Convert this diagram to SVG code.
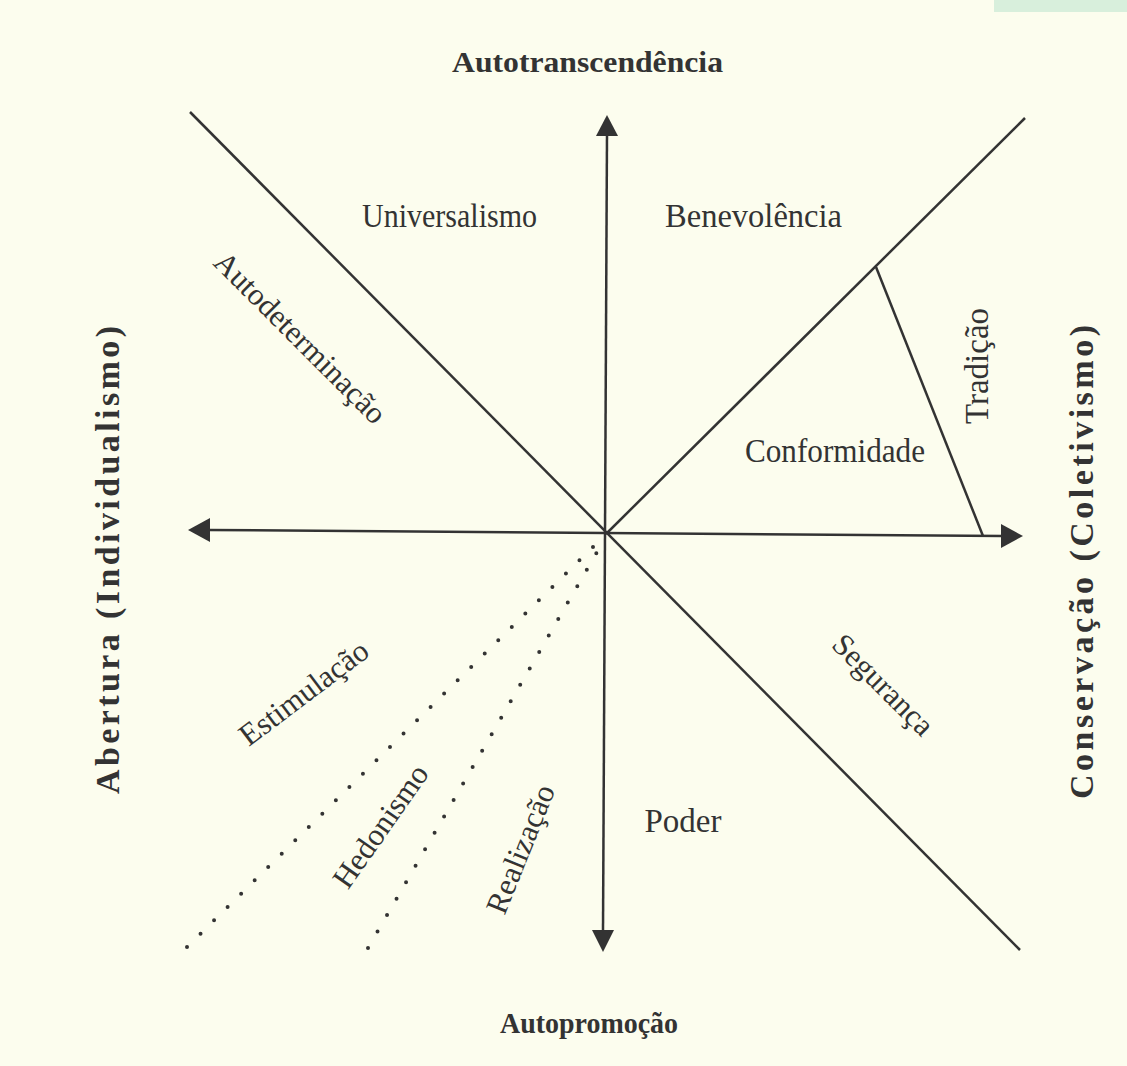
<svg xmlns="http://www.w3.org/2000/svg" width="1127" height="1066" viewBox="0 0 1127 1066">
<style>
  .lbl { font-family: "Liberation Serif", "Times New Roman", serif; font-size: 31px; fill: #333; }
  .big { font-family: "Liberation Serif", "Times New Roman", serif; font-size: 33px; fill: #333; }
  .bold { font-family: "Liberation Serif", "Times New Roman", serif; font-size: 30px; font-weight: bold; fill: #333; }
  .vbold { font-family: "Liberation Serif", "Times New Roman", serif; font-size: 34px; font-weight: bold; fill: #333; }
  .ln { stroke: #333; stroke-width: 2.5; fill: none; }
  .dot { stroke: #333; stroke-width: 4; stroke-linecap: round; stroke-dasharray: 0 19; fill: none; }
  .head { fill: #333; }
</style>
<rect x="0" y="0" width="1127" height="1066" fill="#fcfdee"/>
<rect x="994" y="0" width="133" height="12" fill="#d8efdc"/>

<g id="connectors">
  <line class="ln" x1="190" y1="112" x2="1020" y2="950"/>
  <line class="ln" x1="606" y1="534" x2="1025" y2="118"/>
  <line class="ln" x1="876" y1="267" x2="983" y2="536"/>
  <line class="ln" x1="607" y1="133" x2="603" y2="932"/>
  <line class="ln" x1="208" y1="530" x2="1003" y2="536"/>
  <polygon class="head" points="607,115 596,136 618,136"/>
  <polygon class="head" points="603,952 592,930 614,930"/>
  <polygon class="head" points="188,530 210,518 210,542"/>
  <polygon class="head" points="1023,536 1001,524 1001,548"/>
  <line class="dot" x1="187" y1="947" x2="600" y2="540"/>
  <line class="dot" x1="368" y1="948" x2="604" y2="540"/>
</g>

<g id="autotranscendencia"><text class="bold" x="452" y="72" textLength="271" lengthAdjust="spacingAndGlyphs">Autotranscendência</text></g>
<g id="autopromocao"><text class="bold" x="500" y="1033" textLength="178" lengthAdjust="spacingAndGlyphs">Autopromoção</text></g>
<g id="abertura"><text class="vbold" transform="translate(119,560) rotate(-90)" text-anchor="middle" textLength="468">Abertura (Individualismo)</text></g>
<g id="conservacao"><text class="vbold" transform="translate(1093,562) rotate(-90)" text-anchor="middle" textLength="474">Conservação (Coletivismo)</text></g>

<g id="universalismo"><text class="big" x="362" y="227" textLength="175" lengthAdjust="spacingAndGlyphs">Universalismo</text></g>
<g id="benevolencia"><text class="big" x="665" y="227" textLength="177" lengthAdjust="spacingAndGlyphs">Benevolência</text></g>
<g id="autodeterminacao"><text class="lbl" transform="translate(293,345) rotate(45)" text-anchor="middle">Autodeterminação</text></g>
<g id="tradicao"><text class="big" transform="translate(988,366) rotate(-90)" text-anchor="middle">Tradição</text></g>
<g id="conformidade"><text class="big" x="745" y="462" textLength="180" lengthAdjust="spacingAndGlyphs">Conformidade</text></g>
<g id="seguranca"><text class="lbl" transform="translate(876,692) rotate(45)" text-anchor="middle">Segurança</text></g>
<g id="estimulacao"><text class="lbl" transform="translate(310,701) rotate(-37)" text-anchor="middle">Estimulação</text></g>
<g id="hedonismo"><text class="lbl" transform="translate(389,832) rotate(-55)" text-anchor="middle">Hedonismo</text></g>
<g id="realizacao"><text class="lbl" transform="translate(530,853) rotate(-68)" text-anchor="middle">Realização</text></g>
<g id="poder"><text class="big" x="683" y="832" text-anchor="middle">Poder</text></g>
</svg>
